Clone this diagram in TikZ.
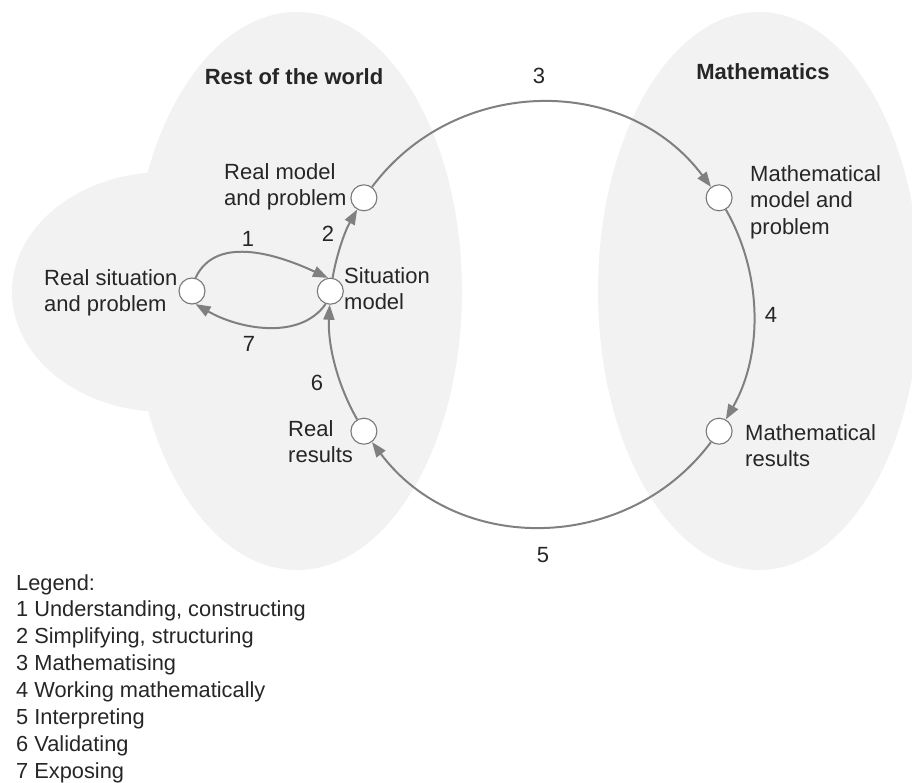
\documentclass[tikz,border=0pt]{standalone}
\usepackage{fontspec}
\setmainfont{Liberation Sans}
\usetikzlibrary{arrows.meta}
\definecolor{blobfill}{RGB}{242,242,242}
\definecolor{arcgray}{RGB}{128,128,128}
\definecolor{ringgray}{RGB}{120,120,120}
\definecolor{txt}{RGB}{38,38,38}
\begin{document}
\begin{tikzpicture}[x=1pt,y=1pt,
  stage/.style={circle, draw=ringgray, line width=1.1pt, fill=white, minimum size=26pt, inner sep=0pt},
  lbl/.style={anchor=north west, inner sep=0pt, align=left, text=txt, font=\fontsize{22}{26.5}\selectfont},
  num/.style={inner sep=0pt, text=txt, font=\fontsize{22}{26.5}\selectfont},
  ttl/.style={inner sep=0pt, text=txt, font=\fontsize{22}{26.5}\selectfont\bfseries},
  flow/.style={draw=arcgray, line width=2pt, -{Triangle[length=15pt,width=11pt]}},
]
\useasboundingbox (0,0) rectangle (912,-782);
\begin{scope}
\clip (0,0) rectangle (912,-782);
\fill[blobfill] (165,-292) ellipse [x radius=153, y radius=120];
\fill[blobfill] (297,-291) ellipse [x radius=165, y radius=279];
\fill[blobfill] (759,-291) ellipse [x radius=161, y radius=279];
\end{scope}

\node[stage] (realsit) at (192,-291) {};
\node[stage] (sitmod) at (330.3,-291.2) {};
\node[stage] (realmod) at (363.9,-197.8) {};
\node[stage] (mathmod) at (719.1,-197.8) {};
\node[stage] (mathres) at (719.1,-431.2) {};
\node[stage] (realres) at (363.9,-431.2) {};

\node[lbl] (lrealmod) at (224,-163) {Real model\\and problem};
\node[lbl] (lrealsit) at (44,-269) {Real situation\\and problem};
\node[lbl] (lsitmod) at (344,-267) {Situation\\model};
\node[lbl] (lmathmod) at (750,-165) {Mathematical\\model and\\problem};
\node[lbl] (lmathres) at (745,-424) {Mathematical\\results};
\node[lbl] (lrealres) at (288,-420) {Real\\results};

\node[num] (n1) at (248,-239) {1};
\node[num] (n2) at (328,-234) {2};
\node[num] (n3) at (539,-76) {3};
\node[num] (n4) at (771,-315) {4};
\node[num] (n5) at (543,-555) {5};
\node[num] (n6) at (317,-383) {6};
\node[num] (n7) at (249,-344) {7};

\node[ttl] (trw) at (294,-77) {Rest of the world};
\node[ttl] (tm) at (763,-72) {Mathematics};

\node[lbl, font=\fontsize{21.8}{26.86}\selectfont] (legend) at (16,-574) {Legend:\\1 Understanding, constructing\\2 Simplifying, structuring\\3 Mathematising\\4 Working mathematically\\5 Interpreting\\6 Validating\\7 Exposing};

\draw[flow] (sitmod) to[bend left=10, looseness=0.86] (realmod);
\draw[flow] (realmod) to[bend left=53.2, looseness=1.065] (mathmod);
\draw[flow] (mathmod) to[bend left=29.8, looseness=0.91] (mathres);
\draw[flow] (mathres) to[bend left=53.2, looseness=1.065] (realres);
\draw[flow] (realres) to[bend left=16.3, looseness=0.87] (sitmod);
\draw[flow] (realsit.75) .. controls +(65:50) and +(155:50) .. (sitmod.100);
\draw[flow] (sitmod.-110) .. controls +(-125:45) and +(-30:50) .. (realsit.-75);
\end{tikzpicture}
\end{document}
